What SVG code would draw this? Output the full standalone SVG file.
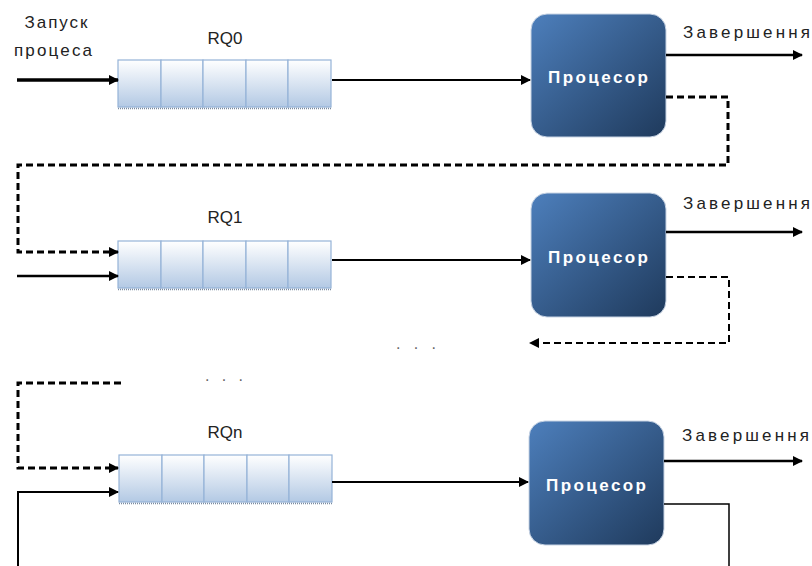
<svg xmlns="http://www.w3.org/2000/svg" width="812" height="566" viewBox="0 0 812 566">
  <defs>
    <linearGradient id="cellGrad" x1="0" y1="0" x2="0" y2="1">
      <stop offset="0" stop-color="#ffffff"/>
      <stop offset="1" stop-color="#b3c9e4"/>
    </linearGradient>
    <linearGradient id="procGrad" x1="0" y1="0" x2="1" y2="1">
      <stop offset="0" stop-color="#4d7fbc"/>
      <stop offset="1" stop-color="#1f3a5c"/>
    </linearGradient>
    <marker id="arr" viewBox="0 0 10 10" refX="9" refY="5" markerWidth="10" markerHeight="10" markerUnits="userSpaceOnUse" orient="auto">
      <path d="M0,0 L10,5 L0,10 z" fill="#000"/>
    </marker>
    <g id="queueCells">
      <rect x="0" y="0" width="43" height="47" fill="url(#cellGrad)" stroke="#95b3d7" stroke-width="1.2"/>
      <rect x="43" y="0" width="42" height="47" fill="url(#cellGrad)" stroke="#95b3d7" stroke-width="1.2"/>
      <rect x="85" y="0" width="43" height="47" fill="url(#cellGrad)" stroke="#95b3d7" stroke-width="1.2"/>
      <rect x="128" y="0" width="42" height="47" fill="url(#cellGrad)" stroke="#95b3d7" stroke-width="1.2"/>
      <rect x="170" y="0" width="43" height="47" fill="url(#cellGrad)" stroke="#95b3d7" stroke-width="1.2"/>
      <line x1="0" y1="48.5" x2="213" y2="48.5" stroke="#7a8aa0" stroke-width="1.5" stroke-dasharray="1,1"/>
    </g>
  </defs>
  <style>
    .lbl { font-family: "Liberation Sans", Arial, sans-serif; font-size: 17px; fill: #222; }
    .proc { font-family: "Liberation Sans", Arial, sans-serif; font-size: 17px; font-weight: bold; fill: #ffffff; }
    .dots { font-family: "Liberation Sans", Arial, sans-serif; font-size: 16px; fill: #666; }
    .solid { fill: none; stroke: #000; }
    .dash { fill: none; stroke: #000; stroke-dasharray: 7,4; }
    .box { fill: url(#procGrad); stroke: #c8d4e4; stroke-width: 1; }
  </style>
  <rect width="812" height="566" fill="#ffffff"/>

  <g id="start-label">
    <text class="lbl" x="56" y="28" text-anchor="middle" textLength="63" lengthAdjust="spacing">Запуск</text>
    <text class="lbl" x="53" y="56" text-anchor="middle" textLength="78" lengthAdjust="spacing">процеса</text>
  </g>

  <g id="rq0">
    <use href="#queueCells" x="118" y="60"/>
    <text class="lbl" x="225" y="44" text-anchor="middle">RQ0</text>
  </g>
  <g id="rq1">
    <use href="#queueCells" x="118" y="241"/>
    <text class="lbl" x="225" y="223" text-anchor="middle">RQ1</text>
  </g>
  <g id="rqn">
    <use href="#queueCells" x="119" y="455"/>
    <text class="lbl" x="225" y="438" text-anchor="middle">RQn</text>
  </g>

  <g id="cpu0">
    <rect class="box" x="531" y="14" width="135" height="123" rx="16"/>
    <text class="proc" x="598" y="83" text-anchor="middle" textLength="100" lengthAdjust="spacing">Процесор</text>
  </g>
  <g id="cpu1">
    <rect class="box" x="531" y="193" width="135" height="124" rx="16"/>
    <text class="proc" x="598" y="263" text-anchor="middle" textLength="100" lengthAdjust="spacing">Процесор</text>
  </g>
  <g id="cpun">
    <rect class="box" x="529" y="421" width="135" height="124" rx="16"/>
    <text class="proc" x="596" y="491" text-anchor="middle" textLength="100" lengthAdjust="spacing">Процесор</text>
  </g>

  <g id="exit-labels">
    <text class="lbl" x="683" y="38" textLength="127" lengthAdjust="spacing">Завершення</text>
    <text class="lbl" x="683" y="209" textLength="127" lengthAdjust="spacing">Завершення</text>
    <text class="lbl" x="682" y="441" textLength="127" lengthAdjust="spacing">Завершення</text>
  </g>

  <g id="dots">
    <text class="dots" x="416" y="349" text-anchor="middle" textLength="40" lengthAdjust="spacing">. . .</text>
    <text class="dots" x="224" y="381" text-anchor="middle" textLength="38" lengthAdjust="spacing">. . .</text>
  </g>

  <g id="connectors">
    <path class="solid" d="M17,80 H118" stroke-width="3.5" marker-end="url(#arr)"/>
    <path class="solid" d="M332,80 H530" stroke-width="2" marker-end="url(#arr)"/>
    <path class="solid" d="M666,55 H802" stroke-width="2.5" marker-end="url(#arr)"/>
    <path class="dash" d="M666,97 H728 V165 H18 V252 H118" stroke-width="3" marker-end="url(#arr)"/>

    <path class="solid" d="M17,276 H118" stroke-width="2.5" marker-end="url(#arr)"/>
    <path class="solid" d="M332,260 H530" stroke-width="2" marker-end="url(#arr)"/>
    <path class="solid" d="M666,232 H802" stroke-width="2.5" marker-end="url(#arr)"/>
    <path class="dash" d="M666,277 H729 V343 H530" stroke-width="2" marker-end="url(#arr)"/>

    <path class="dash" d="M121,383 H18 V468 H118" stroke-width="3" marker-end="url(#arr)"/>
    <path class="solid" d="M18,566 V492 H118" stroke-width="2" marker-end="url(#arr)"/>
    <path class="solid" d="M332,482 H528" stroke-width="2" marker-end="url(#arr)"/>
    <path class="solid" d="M664,461 H802" stroke-width="2.5" marker-end="url(#arr)"/>
    <path class="solid" d="M664,504 H729 V566" stroke-width="1.5"/>
  </g>
</svg>
